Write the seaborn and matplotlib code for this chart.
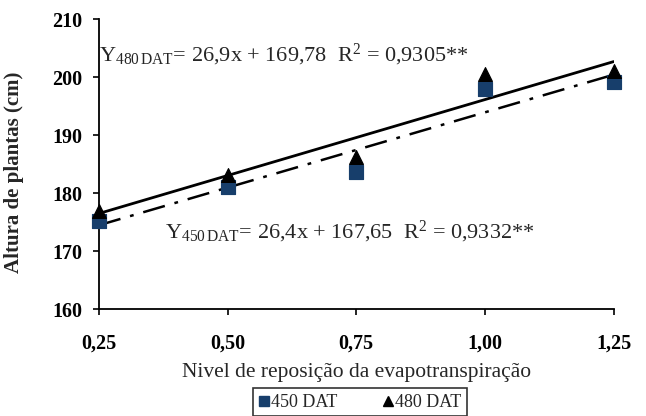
import numpy as np
import pandas as pd
import seaborn as sns
import matplotlib.pyplot as plt
from matplotlib.lines import Line2D

# values
niveis = [0.25, 0.50, 0.75, 1.00, 1.25]
altura_450 = [175.2, 181.1, 183.7, 198.0, 199.2]
altura_480 = [177.0, 183.1, 186.2, 200.6, 201.0]
xticks = [0.25, 0.50, 0.75, 1.00, 1.25]
xtick_labels = ["0,25", "0,50", "0,75", "1,00", "1,25"]
yticks = [160, 170, 180, 190, 200, 210]

df = pd.DataFrame({"nivel": niveis, "h450": altura_450, "h480": altura_480})

sns.set_style("ticks")
plt.rcParams["font.family"] = ["Liberation Serif", "DejaVu Serif"]
plt.rcParams["mathtext.fontset"] = "custom"
plt.rcParams["mathtext.rm"] = "Liberation Serif"
plt.rcParams["mathtext.it"] = "Liberation Serif:italic"

fig = plt.figure(figsize=(6.46, 4.16), dpi=100)
ax = fig.add_axes([0.153, 0.257, 0.797, 0.697])

blue = "#173E6B"
# regression lines
sns.regplot(data=df, x="nivel", y="h480", ci=None, scatter=False, ax=ax,
            line_kws=dict(color="black", lw=2.0, ls="-"))
sns.regplot(data=df, x="nivel", y="h450", ci=None, scatter=False, ax=ax,
            line_kws=dict(color="black", lw=1.8, ls=(0, (9, 4, 1.5, 4))))
# points
sns.scatterplot(data=df, x="nivel", y="h450", marker="s", s=110, color=blue,
                edgecolor=blue, ax=ax, clip_on=False, zorder=4)
sns.scatterplot(data=df, x="nivel", y="h480", marker="^", s=100, color="black",
                edgecolor="black", ax=ax, clip_on=False, zorder=5)

ax.set_xlim(0.25, 1.25)
ax.set_ylim(160, 210)
ax.set_xticks(xticks)
ax.set_xticklabels(xtick_labels)
ax.set_yticks(yticks)
sns.despine(ax=ax)
for s in ["left", "bottom"]:
    ax.spines[s].set_linewidth(1.3)
    ax.spines[s].set_color("black")
ax.tick_params(axis="both", direction="out", length=4, width=1.2, colors="black",
               labelsize=14.5, pad=14)
ax.tick_params(axis="y", pad=8)
for lab in ax.get_xticklabels() + ax.get_yticklabels():
    lab.set_fontweight("bold")

ax.set_xlabel("Nivel de reposição da evapotranspiração", fontsize=15.5)
ax.set_ylabel("Altura de plantas (cm)", fontsize=15, fontweight="bold")
ax.xaxis.set_label_coords(0.5, -0.185)
ax.yaxis.set_label_coords(-0.145, 0.47)

ax.text(0.0, 0.876, r"Y$_{\mathregular{480\,DAT}}$= 26,9x + 169,78  R$^{\mathregular{2}}$ = 0,9305**",
        transform=ax.transAxes, fontsize=16, va="center", ha="left")
ax.text(0.128, 0.266, r"Y$_{\mathregular{450\,DAT}}$= 26,4x + 167,65  R$^{\mathregular{2}}$ = 0,9332**",
        transform=ax.transAxes, fontsize=16, va="center", ha="left")

handles = [Line2D([], [], marker="s", ls="", color=blue, markersize=7),
           Line2D([], [], marker="^", ls="", color="black", markersize=7)]
leg = fig.legend(handles, ["450 DAT", "480 DAT"], ncol=2, loc="upper center",
                 bbox_to_anchor=(0.557, 0.088), frameon=True, fancybox=False,
                 fontsize=13, handlelength=0.6, handletextpad=0.1,
                 columnspacing=2.5, borderpad=0.3)
leg.get_frame().set_edgecolor("black")
leg.get_frame().set_linewidth(1.2)

fig.savefig("out.png", dpi=100)
